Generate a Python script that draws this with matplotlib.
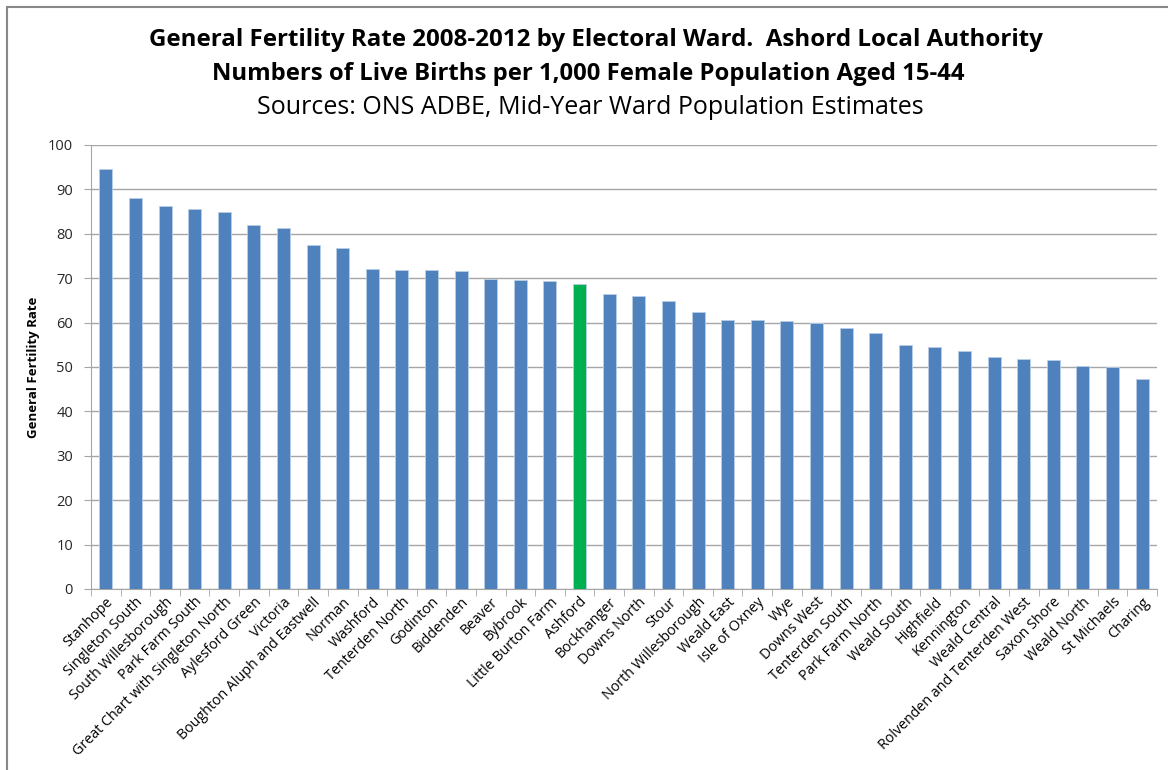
import matplotlib
matplotlib.use("Agg")
import matplotlib.pyplot as plt
from matplotlib import font_manager
from matplotlib.patches import Rectangle

wards = ["Stanhope", "Singleton South", "South Willesborough", "Park Farm South",
         "Great Chart with Singleton North", "Aylesford Green", "Victoria",
         "Boughton Aluph and Eastwell", "Norman", "Washford", "Tenterden North",
         "Godinton", "Biddenden", "Beaver", "Bybrook", "Little Burton Farm", "Ashford",
         "Bockhanger", "Downs North", "Stour", "North Willesborough", "Weald East",
         "Isle of Oxney", "Wye", "Downs West", "Tenterden South", "Park Farm North",
         "Weald South", "Highfield", "Kennington", "Weald Central",
         "Rolvenden and Tenterden West", "Saxon Shore", "Weald North", "St Michaels",
         "Charing"]
gfr = [94.5, 88.0, 86.2, 85.5, 85.0, 82.0, 81.2, 77.4, 76.9, 72.0, 71.9,
       71.9, 71.6, 69.8, 69.6, 69.4, 68.7, 66.4, 66.1, 64.8, 62.5, 60.6,
       60.6, 60.3, 60.0, 58.8, 57.6, 54.9, 54.4, 53.5, 52.2, 51.8, 51.6,
       50.2, 50.0, 47.3]
highlight = "Ashford"
yticks = list(range(0, 101, 10))

avail = {f.name for f in font_manager.fontManager.ttflist}
fam = "Liberation Sans Narrow" if "Liberation Sans Narrow" in avail else "Open Sans"
plt.rcParams['font.family'] = [fam, 'DejaVu Sans']

W, H = 1168, 770
fig = plt.figure(figsize=(W / 100, H / 100), dpi=100)
ax = fig.add_axes([91 / W, 1 - 589 / H, (1157 - 91) / W, (589 - 145) / H])

x = list(range(len(wards)))
colors = ["#00B050" if w == highlight else "#4F81BD" for w in wards]
ax.bar(x, gfr, width=0.44, color=colors, edgecolor="#B9CDE5", linewidth=0.6, zorder=3)

ax.set_xlim(-0.5, len(wards) - 0.5)
ax.set_ylim(0, 100)
ax.set_yticks(yticks)
ax.yaxis.grid(True, color="#A6A6A6", linewidth=1.0, zorder=0)
ax.set_axisbelow(True)
for s in ["top", "right"]:
    ax.spines[s].set_visible(False)
ax.spines["left"].set_color("#A6A6A6")
ax.spines["bottom"].set_color("#A6A6A6")
ax.tick_params(axis="y", length=5, color="#A6A6A6", labelsize=10.5, labelcolor="#262626", pad=8)
ax.set_xticks(x)
ax.set_xticklabels(wards, rotation=45, ha="right", rotation_mode="anchor", fontsize=10.3)
ax.tick_params(axis="x", length=0, pad=4)
ax.set_xticks([i - 0.5 for i in range(len(wards) + 1)], minor=True)
ax.tick_params(axis="x", which="minor", length=5, color="#A6A6A6")
ax.set_ylabel("General Fertility Rate", fontsize=9.5, fontweight="bold")
ax.yaxis.set_label_coords(-(91 - 40) / (1157 - 91), 0.5)

fig.text(596 / W, 1 - 40 / H, "General Fertility Rate 2008-2012 by Electoral Ward.  Ashord Local Authority",
         ha="center", va="center", fontsize=17.4, fontweight="bold")
fig.text(588 / W, 1 - 74 / H, "Numbers of Live Births per 1,000 Female Population Aged 15-44",
         ha="center", va="center", fontsize=17.2, fontweight="bold")
fig.text(590 / W, 1 - 107 / H, "Sources: ONS ADBE, Mid-Year Ward Population Estimates",
         ha="center", va="center", fontsize=18)

fig.patches.append(Rectangle((7 / W, -0.05), 1.2, 1.05 - 7 / H, transform=fig.transFigure,
                             fill=False, edgecolor="#888888", linewidth=1.5))

fig.savefig("out.png", dpi=100)
